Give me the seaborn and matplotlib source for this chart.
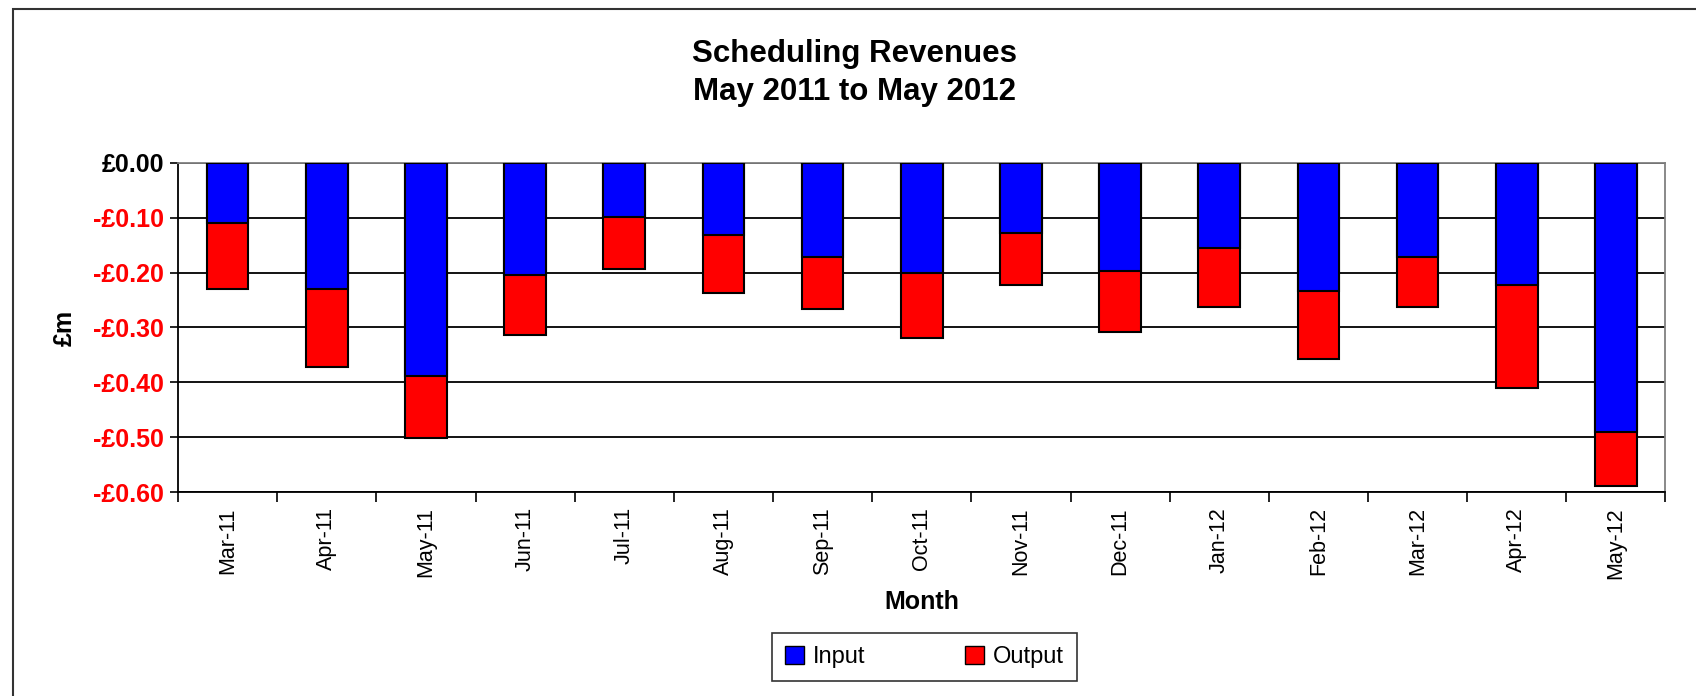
import numpy as np
import pandas as pd
import matplotlib
matplotlib.use("Agg")
import matplotlib.pyplot as plt
import seaborn as sns
from matplotlib.patches import Patch, Rectangle
from matplotlib.ticker import FuncFormatter, FixedLocator

# --- dane (£m) ---
months = ["Mar-11", "Apr-11", "May-11", "Jun-11", "Jul-11", "Aug-11", "Sep-11",
          "Oct-11", "Nov-11", "Dec-11", "Jan-12", "Feb-12", "Mar-12", "Apr-12", "May-12"]
input_vals = [-0.109, -0.229, -0.389, -0.204, -0.098, -0.132, -0.171,
              -0.200, -0.127, -0.197, -0.156, -0.233, -0.171, -0.222, -0.491]
output_vals = [-0.120, -0.143, -0.113, -0.109, -0.095, -0.105, -0.095,
               -0.120, -0.095, -0.112, -0.106, -0.124, -0.091, -0.189, -0.098]
y_ticks = [0.0, -0.1, -0.2, -0.3, -0.4, -0.5, -0.6]

df = pd.DataFrame({"month": months, "Input": input_vals, "Output": output_vals})
df["total"] = df["Input"] + df["Output"]

sns.set_style("white")
plt.rcParams["font.family"] = ["Liberation Sans", "DejaVu Sans"]
for k in ["text.color", "axes.labelcolor", "xtick.color", "ytick.color"]:
    plt.rcParams[k] = "black"

fig = plt.figure(figsize=(16.96, 6.96), dpi=100)
ax = fig.add_axes([0.105, 0.293, 0.877, 0.473])

# stacked (ujemne): najpierw suma na czerwono, potem input na niebiesko
sns.barplot(data=df, x="month", y="total", color="#ff0000", edgecolor="black",
            linewidth=1.5, width=0.42, saturation=1, ax=ax, zorder=3)
sns.barplot(data=df, x="month", y="Input", color="#0000ff", edgecolor="black",
            linewidth=1.5, width=0.42, saturation=1, ax=ax, zorder=4)

ax.set_ylim(-0.6, 0)
ax.set_xlim(-0.5, len(months) - 0.5)
ax.yaxis.set_major_locator(FixedLocator(y_ticks))
ax.yaxis.set_major_formatter(FuncFormatter(
    lambda v, p: "£0.00" if abs(v) < 1e-9 else "-£%.2f" % abs(v)))
ax.grid(axis="y", color="black", linewidth=1.3, zorder=0)
ax.set_axisbelow(True)

ax.tick_params(axis="y", which="major", direction="out", length=6, width=1.2,
               labelsize=18, pad=4, left=True)
for lab in ax.get_yticklabels():
    lab.set_fontweight("bold")
    lab.set_color("black" if lab.get_text() == "£0.00" else "#ff0000")

ax.tick_params(axis="x", which="major", length=0, labelsize=15.5, pad=11)
ax.set_xticks(np.arange(-0.5, len(months), 1.0), minor=True)
ax.tick_params(axis="x", which="minor", direction="out", length=7, width=1.2,
               bottom=True)
plt.setp(ax.get_xticklabels(), rotation=90, va="top", ha="center")

for s in ["left", "bottom"]:
    ax.spines[s].set_color("black")
    ax.spines[s].set_linewidth(1.3)
for s in ["top", "right"]:
    ax.spines[s].set_color("#808080")
    ax.spines[s].set_linewidth(1.3)

ax.set_xlabel("Month", fontsize=18, fontweight="bold", labelpad=8)
ax.set_ylabel("£m", fontsize=18, fontweight="bold", labelpad=12)

fig.text(0.504, 0.895, "Scheduling Revenues\nMay 2011 to May 2012", ha="center",
         va="center", fontsize=22.5, fontweight="bold", linespacing=1.35)

handles = [Patch(facecolor="#0000ff", edgecolor="black", label="Input"),
           Patch(facecolor="#ff0000", edgecolor="black", label="Output")]
leg = fig.legend(handles=handles, loc="center", bbox_to_anchor=(0.545, 0.056),
                 ncol=2, fontsize=17, frameon=True, fancybox=False,
                 edgecolor="black", handlelength=0.8, handleheight=0.8,
                 handletextpad=0.4, columnspacing=4.2, borderpad=0.55)
leg.get_frame().set_linewidth(1.2)

# ramka wykresu
fig.patches.append(Rectangle((13 / 1696, -0.05), 1.2, 0.05 + (696 - 9) / 696,
                             transform=fig.transFigure, fill=False,
                             edgecolor="#333333", linewidth=1.5))

fig.savefig("out.png", dpi=100)
